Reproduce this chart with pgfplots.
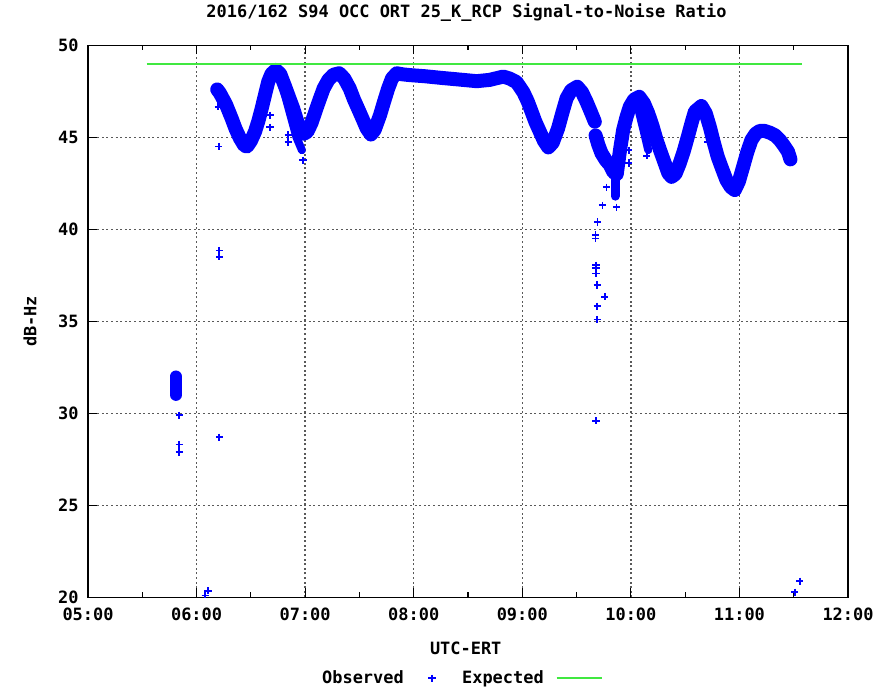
\documentclass[border=0pt]{standalone}
\usepackage{fontspec}
\setmainfont{DejaVu Sans Mono}
\usepackage{pgfplots}
\pgfplotsset{compat=1.18}
\definecolor{obsblue}{RGB}{0,0,255}
\definecolor{expgreen}{RGB}{64,232,64}
\newcommand{\gfont}{\fontsize{17}{20}\selectfont\bfseries}
\pgfplotsset{
  obs legend/.style={legend image code/.code={\path (0bp,0bp) (54bp,0bp); \draw[##1] plot coordinates {(26bp,0bp)};}},
  exp legend/.style={legend image code/.code={\path (0bp,0bp); \draw[##1] (10bp,0bp) -- (55bp,0bp);}},
}

% centre of the observed band, hours UTC vs dB-Hz
\pgfplotstableread{
h v
6.19 47.6
6.215 47.4
6.27 46.8
6.323 46.03
6.36 45.45
6.40 44.94
6.44 44.55
6.465 44.5
6.50 44.8
6.538 45.3
6.57 45.9
6.60 46.57
6.63 47.3
6.66 48.02
6.69 48.45
6.73 48.66
6.77 48.45
6.81 47.84
6.85 47.2
6.89 46.57
6.92 46.0
6.95 45.5
6.99 45.2
7.02 45.3
7.06 45.8
7.10 46.5
7.136 47.1
7.17 47.65
7.213 48.11
7.26 48.4
7.314 48.48
7.36 48.2
7.41 47.66
7.45 47.05
7.50 46.39
7.54 45.85
7.566 45.49
7.606 45.15
7.64 45.4
7.69 46.21
7.73 47.0
7.765 47.66
7.80 48.2
7.843 48.48
7.90 48.42
7.965 48.38
8.10 48.32
8.27 48.22
8.40 48.15
8.58 48.05
8.70 48.12
8.824 48.3
8.88 48.2
8.947 48.0
9.01 47.45
9.05 46.95
9.086 46.39
9.12 45.85
9.162 45.30
9.20 44.8
9.24 44.45
9.28 44.7
9.33 45.49
9.37 46.35
9.408 47.12
9.45 47.55
9.506 47.75
9.55 47.45
9.592 46.93
9.63 46.4
9.668 45.85
}\bandA

\pgfplotstableread{
h v
9.675 45.1
9.70 44.6
9.73 44.13
9.77 43.75
9.807 43.5
9.84 43.1
9.87 43.0
9.90 44.3
9.929 45.4
9.96 46.1
9.99 46.66
10.03 47.05
10.077 47.2
10.12 46.85
10.16 46.3
10.20 45.6
10.237 44.85
10.275 44.2
10.313 43.58
10.345 43.05
10.375 42.85
10.41 43.0
10.45 43.58
10.49 44.3
10.528 45.1
10.56 45.8
10.59 46.4
10.65 46.7
10.69 46.3
10.727 45.57
10.76 44.8
10.80 43.94
10.84 43.3
10.88 42.68
10.92 42.3
10.957 42.13
10.995 42.6
11.034 43.4
11.07 44.15
11.11 44.85
11.15 45.2
11.188 45.35
11.23 45.35
11.28 45.25
11.33 45.1
11.372 44.85
11.41 44.55
11.448 44.21
11.47 43.8
}\bandB

% scattered observations away from the band
\pgfplotstableread{
h v
5.84 29.9
5.84 28.3
5.84 27.9
6.21 28.7
6.08 20.1
6.105 20.35
6.135 19.85
6.20 46.66
6.205 44.5
6.21 38.85
6.21 38.5
6.676 46.2
6.676 45.55
6.844 45.12
6.844 44.74
6.98 43.76
9.678 45.2
9.776 42.28
9.739 41.3
9.868 41.2
9.693 40.4
9.675 39.7
9.675 39.5
9.678 38.05
9.678 37.9
9.678 37.6
9.69 36.97
9.76 36.33
9.69 35.82
9.69 35.1
9.678 29.59
9.98 44.3
9.98 43.6
10.147 44.0
10.71 44.76
11.51 20.27
11.556 20.87
}\outliers

\begin{document}
\begin{tikzpicture}
\path[use as bounding box] (-88bp,-91bp) rectangle (798bp,597.3bp);
\begin{axis}[
  width=760bp, height=552bp, scale only axis,
  xmin=5, xmax=12, ymin=20, ymax=50,
  xtick={5,...,12},
  xticklabels={05:00,06:00,07:00,08:00,09:00,10:00,11:00,12:00},
  minor x tick num=1,
  ytick={20,25,...,50},
  tick align=inside,
  major tick length=9bp, minor tick length=5bp,
  every tick/.style={black, line width=1.2bp},
  axis line style={line width=1.5bp},
  grid=major,
  major grid style={black!65, line width=1.3bp, dash pattern=on 2bp off 2.6bp},
  ticklabel style={font=\gfont},
  /pgf/number format/assume math mode=true,
  yticklabel style={xshift=-6bp},
  xticklabel style={yshift=-7bp},
  title={2016/162 S94 OCC ORT 25\_K\_RCP Signal-to-Noise Ratio},
  title style={font=\gfont, at={(axis description cs:0.498,1.049)}, anchor=center},
  xlabel={UTC-ERT},
  xlabel style={font=\gfont, at={(axis description cs:0.497,-0.0924)}, anchor=center},
  ylabel={dB-Hz},
  ylabel style={font=\gfont, at={(axis description cs:-0.0763,0.5)}, anchor=center},
  legend style={draw=none, fill=none, font=\gfont,
    at={(axis description cs:0.4914,-0.1467)}, anchor=center,
    legend columns=2, /tikz/column sep=0bp},
  legend plot pos=right,
  clip marker paths=true,
]
% the dense band of observations
\addplot[obsblue, line width=14bp, line join=round, line cap=round, forget plot] table {\bandA};
\addplot[obsblue, line width=14bp, line join=round, line cap=round, forget plot] table {\bandB};
\addplot[obsblue, line width=12bp, line cap=round, forget plot] coordinates {(5.81,31.0) (5.81,32.0)};
\addplot[obsblue, line width=8bp, line cap=round, forget plot] coordinates {(6.80,47.6) (6.86,46.3) (6.92,45.0) (6.97,44.3)};
\addplot[obsblue, line width=9bp, line cap=round, forget plot] coordinates {(9.855,43.0) (9.855,41.8)};
\addplot[obsblue, line width=8bp, line cap=round, forget plot] coordinates {(10.07,46.5) (10.12,45.3) (10.16,44.3)};

\addplot[obsblue, only marks, mark=+, mark size=3.6bp,
  mark options={draw=obsblue, line width=1.8bp}, obs legend]
  table {\outliers};
\addlegendentry{Observed}

\addplot[expgreen, line width=2bp, exp legend]
  coordinates {(5.54,49) (11.58,49)};
\addlegendentry{Expected}
\end{axis}
\end{tikzpicture}
\end{document}
